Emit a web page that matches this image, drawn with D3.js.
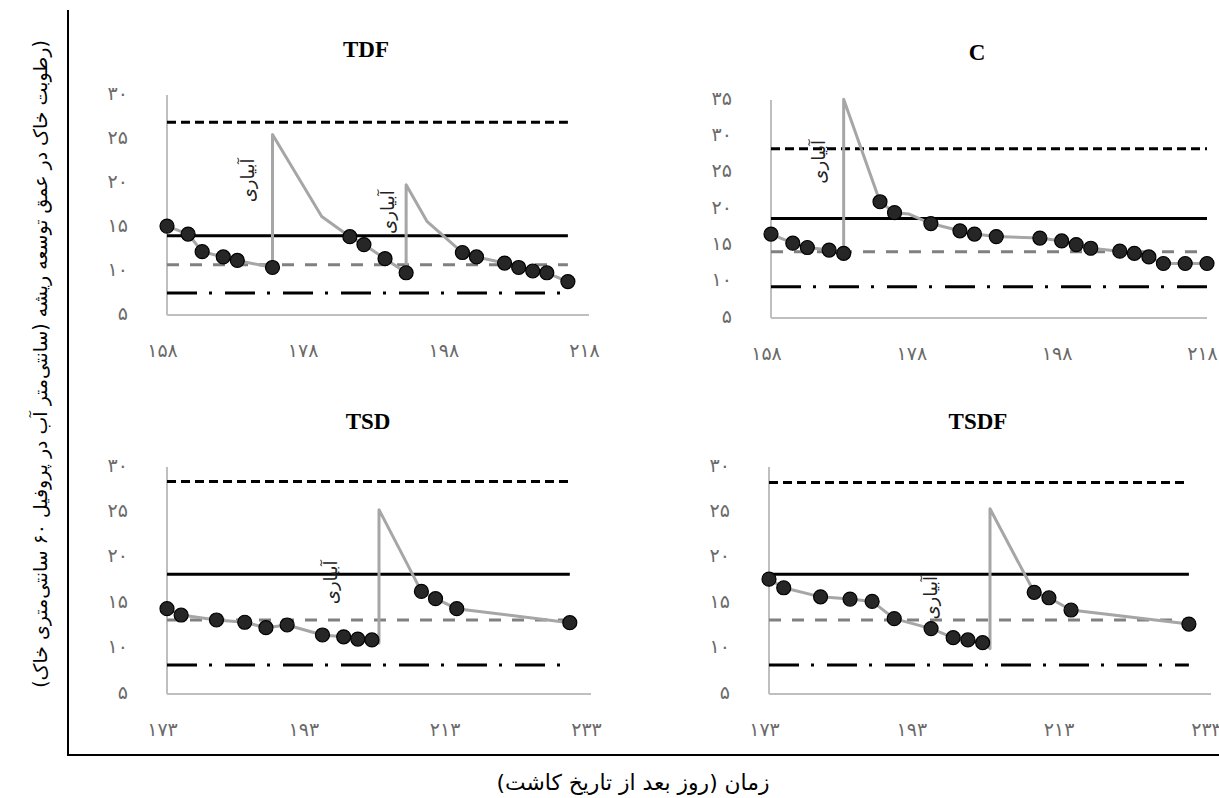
<!DOCTYPE html>
<html>
<head>
<meta charset="utf-8">
<script src="https://cdn.jsdelivr.net/npm/d3@7"></script>
<style>
  body { margin: 0; background: #fff; }
  svg { display: block; }
</style>
</head>
<body>
<svg id="chart" width="1219" height="798"></svg>
<script>
// ---- data ----
const panelNames = ["TDF", "C", "TSD", "TSDF"];

const tdfObsDays = [158, 161, 163, 166, 168, 173, 184, 186, 189, 192, 200, 202, 206, 208, 210, 212, 215];
const tdfObsVals = [15.1, 14.2, 12.2, 11.6, 11.2, 10.4, 13.9, 13.0, 11.4, 9.8, 12.1, 11.6, 10.9, 10.4, 10.0, 9.8, 8.8];
const tdfSimDays = [158, 161, 163, 166, 168, 173, 173, 180, 184, 186, 189, 192, 192, 195, 200, 202, 206, 208, 210, 212, 215];
const tdfSimVals = [15.1, 14.2, 12.2, 11.6, 11.2, 10.4, 25.5, 16.2, 13.9, 13.0, 11.4, 9.8, 19.8, 15.6, 12.1, 11.6, 10.9, 10.4, 10.0, 9.8, 8.8];
const tdfLevels = [26.9, 14.0, 10.7, 7.5];

const cObsDays = [158, 161, 163, 166, 168, 173, 175, 180, 184, 186, 189, 195, 198, 200, 202, 206, 208, 210, 212, 215, 218];
const cObsVals = [16.55, 15.3, 14.7, 14.35, 13.9, 21.0, 19.5, 18.0, 17.0, 16.55, 16.2, 16.0, 15.6, 15.1, 14.6, 14.2, 13.9, 13.4, 12.5, 12.5, 12.5];
const cSimDays = [158, 161, 163, 166, 168, 168, 173, 175, 177, 180, 184, 186, 189, 195, 198, 200, 202, 206, 208, 210, 212, 215, 218];
const cSimVals = [16.55, 15.3, 14.7, 14.35, 13.9, 35.1, 21.0, 19.5, 19.3, 18.0, 17.0, 16.55, 16.2, 16.0, 15.6, 15.1, 14.6, 14.2, 13.9, 13.4, 12.5, 12.5, 12.5];
const cLevels = [28.3, 18.7, 14.1, 9.3];

const tsdObsDays = [173, 175, 180, 184, 187, 190, 195, 198, 200, 202, 209, 211, 214, 230];
const tsdObsVals = [14.4, 13.7, 13.15, 12.9, 12.3, 12.6, 11.5, 11.3, 11.05, 10.95, 16.3, 15.5, 14.4, 12.85];
const tsdSimDays = [173, 175, 180, 184, 187, 190, 195, 198, 200, 202, 203, 203, 209, 211, 214, 230];
const tsdSimVals = [14.4, 13.7, 13.15, 12.9, 12.3, 12.6, 11.5, 11.3, 11.05, 10.95, 10.6, 25.3, 16.3, 15.5, 14.4, 12.85];
const tsdLevels = [28.4, 18.2, 13.15, 8.2];

const tsdfObsDays = [173, 175, 180, 184, 187, 190, 195, 198, 200, 202, 209, 211, 214, 230];
const tsdfObsVals = [17.65, 16.7, 15.7, 15.45, 15.2, 13.3, 12.2, 11.2, 10.95, 10.65, 16.2, 15.6, 14.25, 12.7];
const tsdfSimDays = [173, 175, 180, 184, 187, 190, 195, 198, 200, 202, 203, 203, 209, 211, 214, 230];
const tsdfSimVals = [17.65, 16.7, 15.7, 15.45, 15.2, 13.3, 12.2, 11.2, 10.95, 10.65, 10.0, 25.4, 16.2, 15.6, 14.25, 12.7];
const tsdfLevels = [28.3, 18.2, 13.15, 8.2];

const topXTicks = [158, 178, 198, 218];
const bottomXTicks = [173, 193, 213, 233];
const yTicks30 = [5, 10, 15, 20, 25, 30];
const yTicks35 = [5, 10, 15, 20, 25, 30, 35];

const irrigationLabel = "آبیاری";
const yTitle = "(رطوبت خاک در عمق توسعه ریشه (سانتی‌متر آب در پروفیل ۶۰ سانتی‌متری خاک)";
const xTitle = "زمان (روز بعد از تاریخ کاشت)";

// ---- panel layout (pixels) ----
const panels = [
  { name: panelNames[0], obsDays: tdfObsDays, obsVals: tdfObsVals, simDays: tdfSimDays, simVals: tdfSimVals,
    levels: tdfLevels, xDomain: [158, 218], yDomain: [5, 30], xTicks: topXTicks, yTicks: yTicks30,
    left: 167, right: 589, top: 95, bottom: 315, titleX: 366, titleY: 57,
    notes: [[169.5, 20.3], [189.3, 16.7]] },
  { name: panelNames[1], obsDays: cObsDays, obsVals: cObsVals, simDays: cSimDays, simVals: cSimVals,
    levels: cLevels, xDomain: [158, 218], yDomain: [5, 35], xTicks: topXTicks, yTicks: yTicks35,
    left: 771, right: 1207, top: 100, bottom: 318, titleX: 977, titleY: 60,
    notes: [[164.5, 26.5]] },
  { name: panelNames[2], obsDays: tsdObsDays, obsVals: tsdObsVals, simDays: tsdSimDays, simVals: tsdSimVals,
    levels: tsdLevels, xDomain: [173, 233], yDomain: [5, 30], xTicks: bottomXTicks, yTicks: yTicks30,
    left: 167, right: 591, top: 467, bottom: 694, titleX: 368, titleY: 429,
    notes: [[196.1, 17.3]] },
  { name: panelNames[3], obsDays: tsdfObsDays, obsVals: tsdfObsVals, simDays: tsdfSimDays, simVals: tsdfSimVals,
    levels: tsdfLevels, xDomain: [173, 233], yDomain: [5, 30], xTicks: bottomXTicks, yTicks: yTicks30,
    left: 769, right: 1211, top: 467, bottom: 694, titleX: 978, titleY: 429,
    notes: [[194.9, 15.6]] }
];

// dashed black, solid black, dashed grey, dash-dot black
const levelStyles = [
  { stroke: "#000", dash: "9,5" },
  { stroke: "#000", dash: null },
  { stroke: "#808080", dash: "12,11" },
  { stroke: "#000", dash: "30,12,3,13" }
];

const faDigits = v => String(v).replace(/\d/g, d => "۰۱۲۳۴۵۶۷۸۹"[d]);
const svg = d3.select("#chart");
const persianFont = "'DejaVu Sans', sans-serif";

function drawPanel(p) {
  const x = d3.scaleLinear().domain(p.xDomain).range([p.left, p.right]);
  const y = d3.scaleLinear().domain(p.yDomain).range([p.bottom, p.top]);
  const g = svg.append("g").attr("class", "panel");

  g.append("text")
    .attr("x", p.titleX).attr("y", p.titleY)
    .attr("text-anchor", "middle")
    .style("font-family", "'Liberation Serif', 'Times New Roman', serif")
    .style("font-weight", "bold").style("font-size", "23px")
    .text(p.name);

  // grey axis lines
  g.append("line").attr("x1", p.left).attr("x2", p.left).attr("y1", p.top).attr("y2", p.bottom)
    .attr("stroke", "#bfbfbf").attr("stroke-width", 2);
  g.append("line").attr("x1", p.left).attr("x2", p.right).attr("y1", p.bottom).attr("y2", p.bottom)
    .attr("stroke", "#bfbfbf").attr("stroke-width", 2);

  const yAxis = g.append("g")
    .attr("transform", `translate(${p.left - 39},-2)`)
    .call(d3.axisLeft(y).tickValues(p.yTicks).tickSize(0).tickPadding(0).tickFormat(faDigits));
  const xAxis = g.append("g")
    .attr("transform", `translate(-5,${p.bottom + 28})`)
    .call(d3.axisBottom(x).tickValues(p.xTicks).tickSize(0).tickPadding(0).tickFormat(faDigits));
  [yAxis, xAxis].forEach(a => {
    a.select(".domain").remove();
    a.selectAll("text").style("font-family", persianFont).style("font-size", "19px").attr("fill", "#6a6a6a");
  });

  // horizontal reference levels span the observation period
  const x0 = p.obsDays[0], x1 = p.obsDays[p.obsDays.length - 1];
  p.levels.forEach((v, i) => {
    const st = levelStyles[i];
    g.append("line")
      .attr("x1", x(x0)).attr("x2", x(x1)).attr("y1", y(v)).attr("y2", y(v))
      .attr("stroke", st.stroke).attr("stroke-width", 3)
      .attr("stroke-dasharray", st.dash);
  });

  const sim = p.simDays.map((d, i) => [d, p.simVals[i]]);
  g.append("path")
    .datum(sim)
    .attr("fill", "none").attr("stroke", "#a6a6a6").attr("stroke-width", 3)
    .attr("stroke-linejoin", "round")
    .attr("d", d3.line().x(d => x(d[0])).y(d => y(d[1])));

  p.notes.forEach(([nd, nv]) => {
    g.append("text")
      .attr("transform", `translate(${x(nd)},${y(nv)}) rotate(-90)`)
      .attr("text-anchor", "middle").attr("dominant-baseline", "central")
      .style("font-family", persianFont).style("font-size", "18px")
      .attr("fill", "#222")
      .text(irrigationLabel);
  });

  const obs = p.obsDays.map((d, i) => [d, p.obsVals[i]]);
  g.selectAll("circle.obs").data(obs).join("circle")
    .attr("class", "obs")
    .attr("cx", d => x(d[0])).attr("cy", d => y(d[1])).attr("r", 7)
    .attr("fill", "#262626").attr("stroke", "#000").attr("stroke-width", 1.2);
}

panels.forEach(drawPanel);

// outer frame (left and bottom)
svg.append("line").attr("x1", 68).attr("x2", 68).attr("y1", 10).attr("y2", 755)
  .attr("stroke", "#000").attr("stroke-width", 2);
svg.append("line").attr("x1", 67).attr("x2", 1219).attr("y1", 755).attr("y2", 755)
  .attr("stroke", "#000").attr("stroke-width", 2);

// axis titles, sized to the reference lengths
function fitText(sel, target) {
  const len = sel.node().getComputedTextLength();
  const fs = parseFloat(sel.style("font-size"));
  sel.style("font-size", (fs * target / len).toFixed(2) + "px");
}
const yt = svg.append("text")
  .attr("transform", "translate(40,364) rotate(-90)")
  .attr("text-anchor", "middle").attr("dominant-baseline", "central")
  .attr("direction", "rtl").style("unicode-bidi", "embed")
  .style("font-family", persianFont).style("font-size", "16px")
  .text(yTitle);
fitText(yt, 648);
const xt = svg.append("text")
  .attr("x", 633).attr("y", 782)
  .attr("text-anchor", "middle").attr("dominant-baseline", "central")
  .attr("direction", "rtl").style("unicode-bidi", "embed")
  .style("font-family", persianFont).style("font-size", "16px")
  .text(xTitle);
fitText(xt, 273);
</script>
</body>
</html>
